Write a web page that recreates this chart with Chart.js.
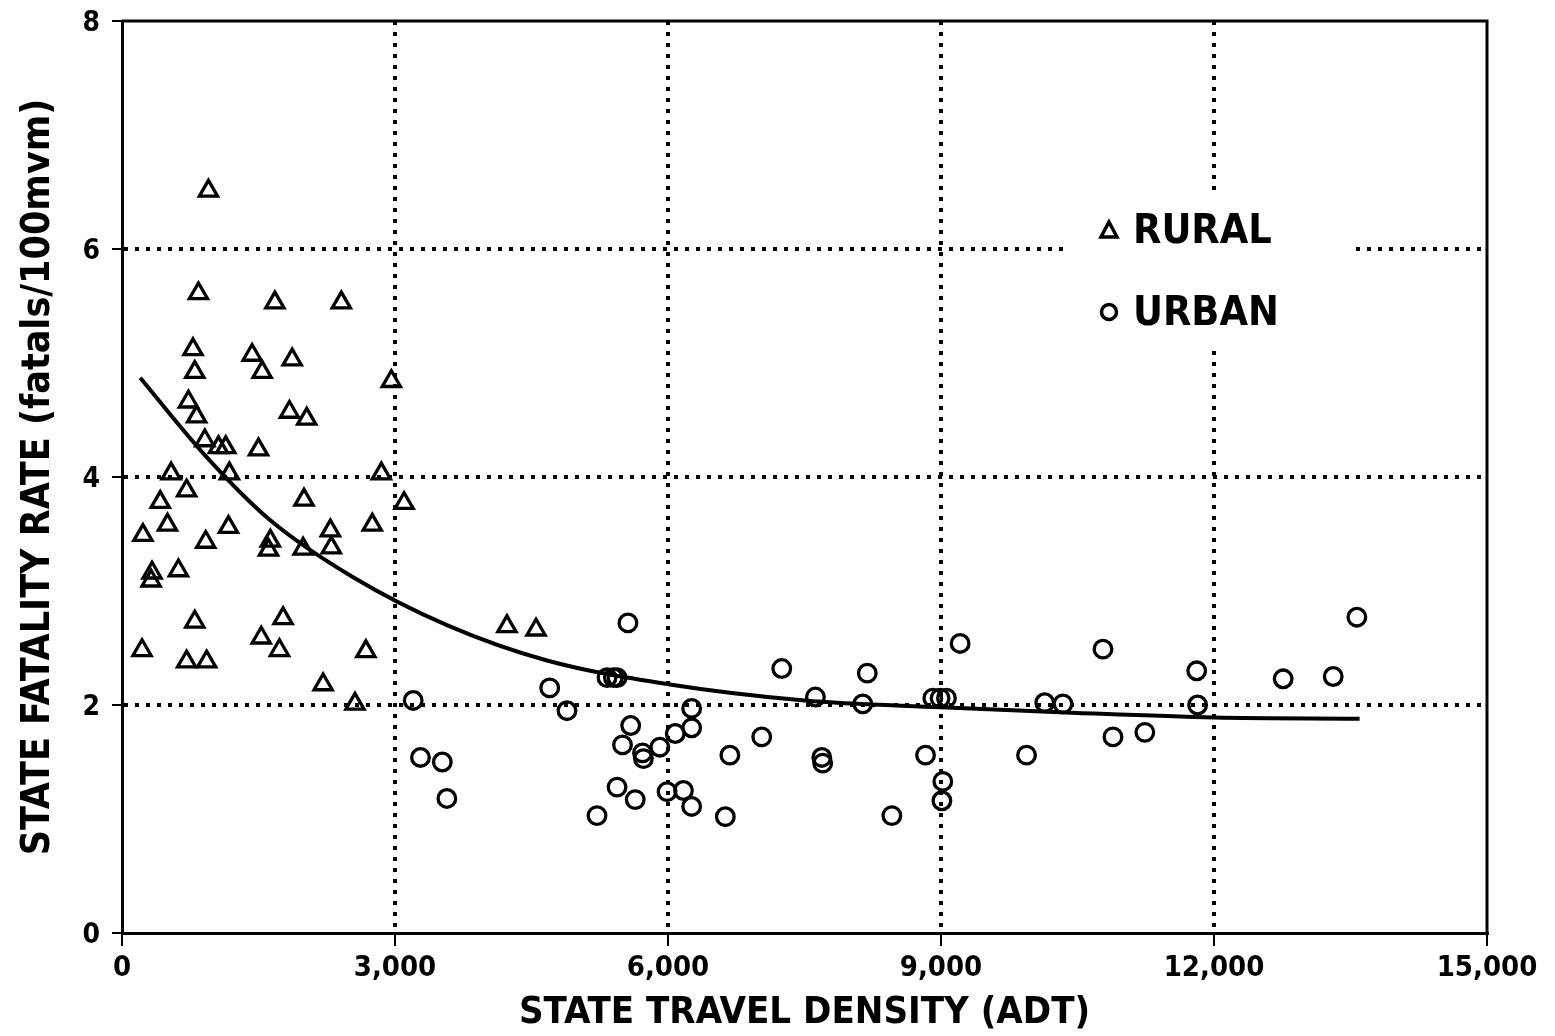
<!DOCTYPE html>
<html>
<head>
<meta charset="utf-8">
<script src="https://cdn.jsdelivr.net/npm/chart.js@4.4.0/dist/chart.umd.min.js"></script>
<style>
html, body { margin: 0; padding: 0; background: #fff; }
#wrap { width: 1555px; height: 1036px; }
</style>
</head>
<body>
<div id="wrap"><canvas id="chart"></canvas></div>
<script>
var FONT = '"Liberation Sans Narrow", "DejaVu Sans Condensed", "Arial Narrow", "Liberation Sans", Arial, sans-serif';

// rural states (triangles)
var ruralX = [950, 840, 1680, 2410, 780, 1430, 1870, 800, 1540, 2960, 730, 820, 1840, 2030, 910, 1060, 1140, 1500,
              1180, 540, 2850, 710, 420, 2000, 3100, 230, 500, 1170, 2290, 2750, 1630, 1610, 1990, 2300, 920,
              620, 330, 320, 800, 1770, 1530, 220, 710, 930, 1730, 2680, 2210, 2560, 4230, 4550];
var ruralY = [6.51, 5.61, 5.53, 5.53, 5.12, 5.07, 5.03, 4.92, 4.92, 4.84, 4.66, 4.53, 4.57, 4.51, 4.32, 4.26, 4.26, 4.24,
              4.03, 4.03, 4.03, 3.88, 3.78, 3.80, 3.77, 3.49, 3.58, 3.56, 3.53, 3.58, 3.44, 3.36, 3.37, 3.38, 3.43,
              3.18, 3.16, 3.09, 2.73, 2.76, 2.59, 2.48, 2.38, 2.38, 2.48, 2.47, 2.18, 2.01, 2.69, 2.66];

// urban states (circles)
var urbanX = [3200, 3280, 3520, 3570, 4700, 4890, 5220, 5330, 5400, 5440, 5440, 5500, 5560, 5590, 5640, 5720, 5730,
              5910, 5990, 6080, 6170, 6260, 6260, 6260, 6630, 6680, 7030, 7250, 7620, 7690, 7700, 8140, 8190, 8460,
              8830, 8910, 8990, 9060, 9020, 9010, 9210, 9940, 10140, 10340, 10780, 10890, 11240, 11810, 11820,
              12760, 13310, 13570];
var urbanY = [2.04, 1.54, 1.50, 1.18, 2.15, 1.95, 1.03, 2.24, 2.24, 2.24, 1.28, 1.65, 2.72, 1.82, 1.17, 1.58, 1.53,
              1.63, 1.24, 1.75, 1.25, 1.97, 1.80, 1.11, 1.02, 1.56, 1.72, 2.32, 2.07, 1.54, 1.49, 2.01, 2.28, 1.03,
              1.56, 2.06, 2.06, 2.06, 1.33, 1.16, 2.54, 1.56, 2.02, 2.01, 2.49, 1.72, 1.76, 2.30, 2.00,
              2.23, 2.25, 2.77];

// fitted curve
var curveX = [200, 890, 1630, 2540, 3570, 4670, 6020, 7500, 9000, 10500, 12000, 13600];
var curveY = [4.87, 4.21, 3.62, 3.12, 2.70, 2.39, 2.18, 2.04, 1.98, 1.93, 1.89, 1.88];

var xTicks = [0, 3000, 6000, 9000, 12000, 15000];
var yTicks = [0, 2, 4, 6, 8];
var legendLabels = ['RURAL', 'URBAN'];

function toPoints(xs, ys) {
    return xs.map(function(x, i) { return {x: x, y: ys[i]}; });
}

// solid frame on top and right, plus the white legend box
var framePlugin = {
    id: 'frame',
    beforeDatasetsDraw: function(chart) {
        var ctx = chart.ctx, a = chart.chartArea;
        ctx.save();
        ctx.fillStyle = '#fff';
        ctx.fillRect(1065, 195, 285, 150);
        ctx.strokeStyle = '#000';
        ctx.lineWidth = 3;
        ctx.beginPath();
        ctx.moveTo(a.left, a.top);
        ctx.lineTo(a.right, a.top);
        ctx.lineTo(a.right, a.bottom);
        ctx.stroke();
        ctx.restore();
    },
    afterDatasetsDraw: function(chart) {
        var ctx = chart.ctx;
        ctx.save();
        ctx.strokeStyle = '#000';
        ctx.lineWidth = 3.5;
        // triangle
        ctx.beginPath();
        ctx.moveTo(1109, 222);
        ctx.lineTo(1117, 237);
        ctx.lineTo(1101, 237);
        ctx.closePath();
        ctx.stroke();
        // circle
        ctx.beginPath();
        ctx.arc(1109, 312, 7.5, 0, Math.PI * 2);
        ctx.stroke();
        ctx.fillStyle = '#000';
        ctx.font = 'bold 41px ' + FONT;
        ctx.textBaseline = 'middle';
        ctx.fillText(legendLabels[0], 1133, 232);
        ctx.fillText(legendLabels[1], 1133, 314);
        ctx.restore();
    }
};

function gridColor(ctx) {
    var s = ctx.scale;
    if (ctx.tick && (ctx.tick.value === s.min || ctx.tick.value === s.max)) return 'rgba(0,0,0,0)';
    return '#000';
}

new Chart(document.getElementById('chart'), {
    type: 'scatter',
    data: {
        datasets: [
            {
                label: 'RURAL',
                data: toPoints(ruralX, ruralY),
                pointStyle: 'triangle',
                pointRadius: 10.5,
                borderColor: '#000',
                backgroundColor: 'rgba(0,0,0,0)',
                pointBorderWidth: 3.3
            },
            {
                label: 'URBAN',
                data: toPoints(urbanX, urbanY),
                pointStyle: 'circle',
                pointRadius: 8.8,
                borderColor: '#000',
                backgroundColor: 'rgba(0,0,0,0)',
                pointBorderWidth: 3.3
            },
            {
                label: 'fit',
                type: 'line',
                data: toPoints(curveX, curveY),
                borderColor: '#000',
                borderWidth: 4,
                pointRadius: 0,
                cubicInterpolationMode: 'monotone',
                fill: false
            }
        ]
    },
    options: {
        responsive: true,
        maintainAspectRatio: false,
        animation: false,
        layout: { padding: { left: 0, right: 68, top: 21, bottom: 0 } },
        plugins: { legend: { display: false }, tooltip: { enabled: false } },
        scales: {
            x: {
                type: 'linear',
                min: 0,
                max: 15000,
                afterBuildTicks: function(scale) { scale.ticks = xTicks.map(function(v) { return {value: v}; }); },
                afterFit: function(scale) { scale.height = 103; },
                ticks: {
                    color: '#000',
                    padding: 5,
                    font: { family: FONT, size: 29, weight: 'bold' },
                    callback: function(v) { return v.toLocaleString('en-US'); }
                },
                grid: { color: gridColor, lineWidth: 4, tickLength: 13, tickColor: '#000', tickWidth: 2 },
                border: { display: true, color: '#000', width: 3, dash: [4, 7] },
                title: {
                    display: true,
                    text: 'STATE TRAVEL DENSITY (ADT)',
                    color: '#000',
                    padding: { top: 0, bottom: 0 },
                    font: { family: FONT, size: 38, weight: 'bold' }
                }
            },
            y: {
                type: 'linear',
                min: 0,
                max: 8,
                afterBuildTicks: function(scale) { scale.ticks = yTicks.map(function(v) { return {value: v}; }); },
                afterFit: function(scale) { scale.width = 122; },
                ticks: {
                    color: '#000',
                    padding: 12,
                    labelOffset: 3,
                    font: { family: FONT, size: 28, weight: 'bold', lineHeight: 0.5 }
                },
                grid: { color: gridColor, lineWidth: 4, tickLength: 10, tickColor: '#000', tickWidth: 2 },
                border: { display: true, color: '#000', width: 3, dash: [4, 7] },
                title: {
                    display: true,
                    text: 'STATE FATALITY RATE (fatals/100mvm)',
                    color: '#000',
                    padding: { top: 15, bottom: 0 },
                    font: { family: FONT, size: 39, weight: 'bold' }
                }
            }
        }
    },
    plugins: [framePlugin]
});
</script>
</body>
</html>
